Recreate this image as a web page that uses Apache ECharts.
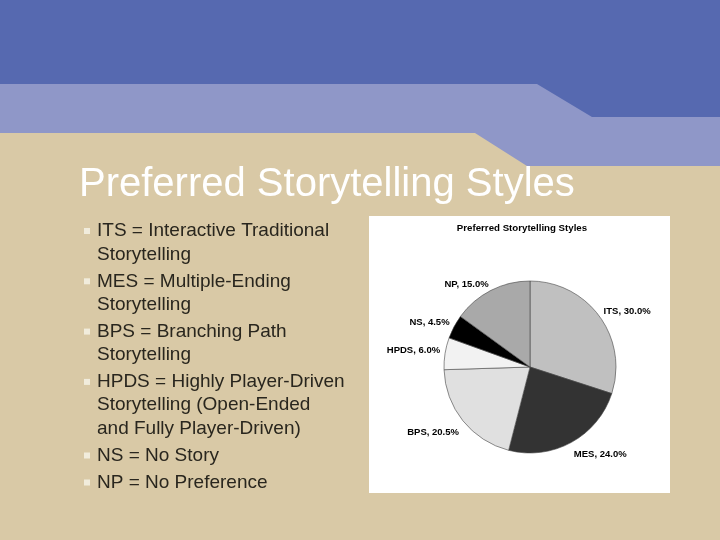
<!DOCTYPE html>
<html><head><meta charset="utf-8">
<script src="https://cdn.jsdelivr.net/npm/echarts@6/dist/echarts.min.js"></script>
<style>html,body{margin:0;padding:0;background:#d9c9a6}#c{width:720px;height:540px}</style>
</head><body><div id="c"></div>
<script>
const categories = ['ITS', 'MES', 'BPS', 'HPDS', 'NS', 'NP'];
const values = [30.0, 24.0, 20.5, 6.0, 4.5, 15.0];
const sliceColors = ['#c0c0c0', '#333333', '#e0e0e0', '#f2f2f2', '#000000', '#a9a9a9'];
const bulletItems = [
  ['ITS = Interactive Traditional', 'Storytelling'],
  ['MES = Multiple-Ending', 'Storytelling'],
  ['BPS = Branching Path', 'Storytelling'],
  ['HPDS = Highly Player-Driven', 'Storytelling (Open-Ended', 'and Fully Player-Driven)'],
  ['NS = No Story'],
  ['NP = No Preference']
];
const slideTitle = 'Preferred Storytelling Styles';
const chartTitle = 'Preferred Storytelling Styles';

const CX = 530, CY = 367, R = 86, LABEL_R = 91;
const total = values.reduce((a, b) => a + b, 0);
const midAngles = [];
let acc = 0;
values.forEach(v => { midAngles.push(Math.PI / 2 - 2 * Math.PI * (acc + v / 2) / total); acc += v; });

const chart = echarts.init(document.getElementById('c'));
const graphics = [
  {type:'rect', shape:{x:0,y:0,width:720,height:540}, style:{fill:'#d9c9a6'}, silent:true, z:-10},
  {type:'polygon', shape:{points:[[0,0],[720,0],[720,166],[527,166],[475,133],[0,133]]}, style:{fill:'#8f97c8'}, z:-9},
  {type:'polygon', shape:{points:[[0,0],[720,0],[720,117],[592,117],[537,84],[0,84]]}, style:{fill:'#5669b0'}, z:-8},
  {type:'text', x:79, y:185, style:{text:slideTitle, fill:'#ffffff', font:'40px "Liberation Sans", Arial, sans-serif', verticalAlign:'middle'}},
  {type:'rect', shape:{x:369,y:216,width:301,height:277}, style:{fill:'#ffffff'}, z:-5}
];
let y = 231;
bulletItems.forEach((lines, i) => {
  graphics.push({type:'rect', shape:{x:84,y:y-3,width:6,height:6}, style:{fill:'#f1ecdc'}});
  lines.forEach((t, j) => {
    graphics.push({type:'text', x:97, y:y, style:{text:t, fill:'#29261e', font:'19px "Liberation Sans", Arial, sans-serif', verticalAlign:'middle'}});
    if (j < lines.length - 1) y += 23.3;
  });
  y += 27;
});

chart.setOption({
  animation:false,
  backgroundColor:'#d9c9a6',
  title:{text:chartTitle, left:517, top:218, textAlign:'center',
    textStyle:{fontSize:9.7, fontWeight:'bold', color:'#000', fontFamily:'"Liberation Sans", Arial, sans-serif'}},
  graphic:graphics,
  series:[{
    type:'pie',
    center:[CX, CY],
    radius:R,
    startAngle:90,
    clockwise:true,
    avoidLabelOverlap:false,
    color:sliceColors,
    itemStyle:{borderColor:'#444', borderWidth:0.6},
    label:{show:true, position:'outside', formatter:p => p.name + ', ' + p.value.toFixed(1) + '%',
      fontSize:9.5, fontWeight:'bold', color:'#000', fontFamily:'"Liberation Sans", Arial, sans-serif'},
    labelLine:{show:false, length:2, length2:0},
    labelLayout: function (p) {
      const a = midAngles[p.dataIndex];
      const c = Math.cos(a), s = Math.sin(a);
      const w = p.labelRect.width, h = p.labelRect.height;
      return {
        x: CX + LABEL_R * c + Math.sign(c) * w / 2,
        y: CY - LABEL_R * s - Math.sign(s) * h / 2 + 3,
        align: 'center', verticalAlign: 'middle'
      };
    },
    emphasis:{disabled:true},
    data:categories.map((c,i)=>({name:c, value:values[i]}))
  }]
});
</script></body></html>
